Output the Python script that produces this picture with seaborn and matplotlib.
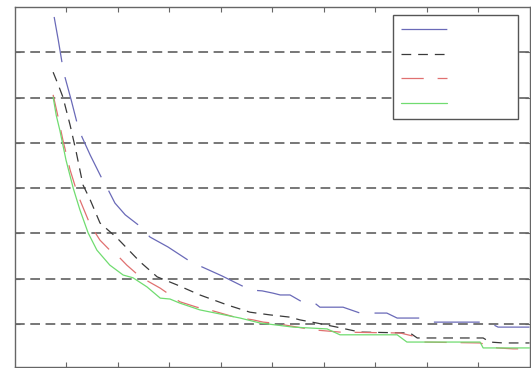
import matplotlib
matplotlib.use("Agg")
import matplotlib.pyplot as plt
import seaborn as sns
import pandas as pd

# ---- data ----
blue_x = [0.77, 0.85, 0.92, 0.98, 1.10, 1.21, 1.31, 1.47, 1.68, 1.82, 1.95, 2.15, 2.40, 2.63, 2.98, 3.37, 3.64, 4.03, 4.42, 4.57,
          4.81, 5.02, 5.16, 5.35, 5.58, 5.83, 5.93, 6.38, 6.71, 7.23, 7.43, 7.87, 8.13, 9.04, 9.23, 9.39, 10.0]
blue_y = [7.78, 7.27, 6.79, 6.45, 5.95, 5.46, 5.13, 4.73, 4.25, 3.96, 3.67, 3.41, 3.19, 2.92, 2.70, 2.41, 2.26, 2.06, 1.84, 1.75,
          1.73, 1.68, 1.64, 1.64, 1.49, 1.46, 1.37, 1.37, 1.24, 1.24, 1.13, 1.13, 1.04, 1.04, 1.02, 0.93, 0.93]

black_x = [0.75, 0.85, 0.94, 1.08, 1.19, 1.33, 1.47, 1.66, 1.99, 2.44, 2.77, 3.16, 3.60, 4.13, 4.57, 4.96, 5.35, 5.54, 5.87, 6.26,
           6.71, 7.68, 7.82, 9.10, 9.23, 9.49, 10.0]
black_y = [6.56, 6.28, 6.01, 5.39, 4.84, 4.07, 3.74, 3.23, 2.90, 2.37, 2.04, 1.86, 1.64, 1.42, 1.26, 1.20, 1.15, 1.09, 1.02, 0.93,
           0.82, 0.80, 0.69, 0.69, 0.60, 0.58, 0.58]

red_x = [0.75, 0.85, 0.94, 1.08, 1.23, 1.47, 1.66, 1.85, 1.95, 2.18, 2.44, 2.83, 3.21, 3.54, 3.85, 4.28, 4.63, 4.83, 5.02, 5.49,
         5.80, 6.32, 7.49, 7.82, 7.93, 9.04, 9.37, 9.68, 10.0]
red_y = [6.06, 5.55, 5.06, 4.40, 3.85, 3.19, 2.85, 2.63, 2.57, 2.30, 2.04, 1.79, 1.49, 1.37, 1.29, 1.15, 1.09, 1.04, 1.02, 0.93,
         0.87, 0.82, 0.80, 0.71, 0.60, 0.58, 0.47, 0.45, 0.45]

green_x = [0.75, 0.81, 0.88, 1.00, 1.14, 1.27, 1.43, 1.60, 1.85, 2.11, 2.30, 2.57, 2.83, 3.02, 3.21, 3.60, 3.99, 4.38, 4.77, 5.41,
           6.07, 6.32, 7.43, 7.62, 9.04, 9.10, 10.0]
green_y = [6.01, 5.61, 5.28, 4.62, 4.00, 3.52, 3.01, 2.63, 2.30, 2.08, 2.02, 1.82, 1.57, 1.55, 1.46, 1.31, 1.22, 1.13, 1.02, 0.93,
           0.89, 0.76, 0.76, 0.60, 0.60, 0.47, 0.47]

series_names = ["s1", "s2", "s3", "s4"]
x_ticks = [1, 2, 3, 4, 5, 6, 7, 8, 9]
y_ticks = [1, 2, 3, 4, 5, 6, 7]

# ---- styling ----
sns.set_style("white")
plt.rcParams["font.family"] = ["DejaVu Sans"]
plt.rcParams["lines.scale_dashes"] = False

colors = {"s1": "#6a6ab8", "s2": "#3a3a3a", "s3": "#e07070", "s4": "#70dc70"}
dashes = {"s1": (33, 11), "s2": (7, 5), "s3": (16, 10), "s4": ""}

frames = []
for name, xs, ys in zip(series_names, [blue_x, black_x, red_x, green_x], [blue_y, black_y, red_y, green_y]):
    frames.append(pd.DataFrame({"x": xs, "y": ys, "series": name, "order": range(len(xs))}))
df = pd.concat(frames, ignore_index=True)

fig = plt.figure(figsize=(5.31, 3.68), dpi=100)
ax = fig.add_axes([14.5 / 531, 1 - 366.5 / 368, 515 / 531, 359.5 / 368])

sns.lineplot(data=df, x="x", y="y", hue="series", style="series", palette=colors, dashes=dashes,
             sort=False, estimator=None, units="series", linewidth=0.9, legend=False, ax=ax, zorder=3)

ax.set_xlim(0, 10)
ax.set_ylim(0.06, 8)
ax.set_xticks(x_ticks)
ax.set_yticks(y_ticks)
ax.set_xticklabels([])
ax.set_yticklabels([])
ax.set_xlabel("")
ax.set_ylabel("")

ax.yaxis.grid(True, color="#606060", linewidth=1.2, linestyle=(0, (7, 4)), zorder=1)
ax.xaxis.grid(False)
ax.set_axisbelow(True)

for sp in ax.spines.values():
    sp.set_color("#666666")
    sp.set_linewidth(1.0)
    sp.set_visible(True)

ax.tick_params(axis="x", direction="in", length=3.6, width=0.8, color="#666666", top=True, bottom=True)
ax.tick_params(axis="y", direction="in", length=3.6, width=0.8, color="#666666", left=True, right=True)

handles = ax.get_lines()[:4]
labels = ["            "] * 4
leg = ax.legend(handles, labels, loc="upper right", bbox_to_anchor=(1 - 11.5 / 515, 1 - 8 / 359.5),
                borderaxespad=0, fontsize=10, handlelength=3.3, handletextpad=0.8, labelspacing=0.78,
                borderpad=0.55, fancybox=False, framealpha=1, edgecolor="#555555")
leg.get_frame().set_linewidth(1.0)

fig.savefig("out.png", dpi=100)
